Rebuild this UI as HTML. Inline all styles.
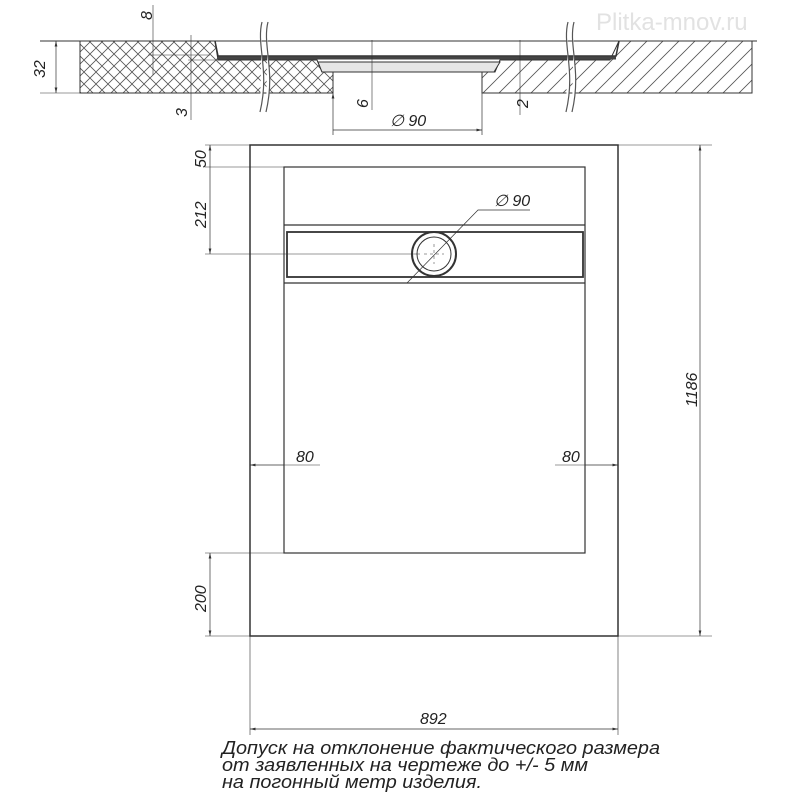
<!DOCTYPE html>
<html><head><meta charset="utf-8"><style>
body{margin:0;background:#fff}
svg text{font-family:"Liberation Sans",sans-serif;font-style:italic;fill:#222}
</style></head><body>
<svg width="800" height="800" viewBox="0 0 800 800" xmlns="http://www.w3.org/2000/svg">
<defs>
<pattern id="xh" width="12" height="12" patternUnits="userSpaceOnUse">
<path d="M0 0L12 12M12 0L0 12" stroke="#555" stroke-width="0.8"/></pattern>
<pattern id="dh" width="16" height="16" patternUnits="userSpaceOnUse">
<path d="M0 16L16 0M-2 2L2 -2M14 18L18 14" stroke="#555" stroke-width="0.8"/></pattern>
<marker id="a" markerWidth="8" markerHeight="6" refX="8" refY="3" orient="auto-start-reverse"><path d="M0 1L8 3L0 5z" fill="#333"/></marker>
</defs>
<g stroke="#333" fill="none" stroke-width="1">
<!-- top section -->
<path d="M80 41H752V93H482V72H333V93H80Z" fill="#fff"/>
<path d="M80 41H215L218 60H317L322 72H333V93H80Z" fill="url(#xh)"/>
<path d="M482 72H495L500 60H610L619 41H752V93H482Z" fill="url(#dh)"/>
<path d="M215 41L218 56H616L619 41" stroke-width="1.5"/>
<path d="M218 58H616" stroke-width="3" stroke="#444"/>
<path d="M318 62H500L494 72H322Z" fill="#e6e6e6"/>
<path d="M40 41H757" stroke-width="1"/>
<path d="M262 22C256 45 270 70 260 112M268 22C262 45 276 70 266 112" stroke="#555" stroke-width="1.2" fill="#fff"/>
<path d="M568 22C562 45 576 70 566 112M574 22C568 45 582 70 572 112" stroke="#555" stroke-width="1.2" fill="#fff"/>
<path d="M56 41V93" marker-start="url(#a)" marker-end="url(#a)" stroke-width="0.7"/>
<path d="M40 93H80" stroke-width="0.6"/>
<path d="M153 5V75M148 55H210" stroke-width="0.6"/>
<path d="M191 35V120M188 60H218" stroke-width="0.6"/>
<path d="M372 40V110M520 40V115" stroke-width="0.6"/>
<path d="M333 93V135M482 93V135M333 130H482" stroke-width="0.7" marker-start="url(#a)" marker-end="url(#a)"/>
<!-- plan -->
<rect x="250" y="145" width="368" height="491" stroke-width="1.5"/>
<rect x="284" y="167" width="301" height="386" stroke-width="1.2"/>
<path d="M284 225H585M284 283H585" stroke-width="1.2"/>
<rect x="287" y="232" width="296" height="45" stroke-width="1.8"/>
<circle cx="434" cy="254" r="22" fill="#fff" stroke-width="2"/>
<circle cx="434" cy="254" r="17" stroke-width="1"/>
<path d="M424 254H444M434 244V264" stroke="#999" stroke-dasharray="3 3"/>
<path d="M407 283L478 210H530" stroke-width="0.7"/>
<path d="M205 145H250M205 167H284M205 254H420" stroke-width="0.6"/>
<path d="M210 145V167M210 167V254" stroke-width="0.7" marker-start="url(#a)" marker-end="url(#a)"/>
<path d="M205 553H284M205 636H250" stroke-width="0.6"/>
<path d="M210 553V636" stroke-width="0.7" marker-start="url(#a)" marker-end="url(#a)"/>
<path d="M618 145H712M618 636H712" stroke-width="0.6"/>
<path d="M700 145V636" stroke-width="0.7" marker-start="url(#a)" marker-end="url(#a)"/>
<path d="M250 465H284M585 465H618" stroke-width="0.7" marker-start="url(#a)" marker-end="url(#a)"/>
<path d="M284 465H320M555 465H585" stroke-width="0.6"/>
<path d="M250 636V735M618 636V735" stroke-width="0.6"/>
<path d="M250 729H618" stroke-width="0.7" marker-start="url(#a)" marker-end="url(#a)"/>
</g>
<g font-size="16">
<text transform="translate(45 78) rotate(-90)">32</text>
<text transform="translate(152 20) rotate(-90)">8</text>
<text transform="translate(187 117) rotate(-90)">3</text>
<text transform="translate(368 108) rotate(-90)">6</text>
<text transform="translate(528 108) rotate(-90)">2</text>
<text x="390" y="126">∅ 90</text>
<text x="494" y="206">∅ 90</text>
<text transform="translate(206 168) rotate(-90)">50</text>
<text transform="translate(206 228) rotate(-90)">212</text>
<text transform="translate(206 612) rotate(-90)">200</text>
<text transform="translate(697 407) rotate(-90)">1186</text>
<text x="296" y="462">80</text>
<text x="562" y="462">80</text>
<text x="420" y="724">892</text>
</g>
<g font-size="18">
<text x="222" y="754" textLength="438" lengthAdjust="spacingAndGlyphs">Допуск на отклонение фактического размера</text>
<text x="222" y="771" textLength="366" lengthAdjust="spacingAndGlyphs">от заявленных на чертеже до +/- 5 мм</text>
<text x="222" y="788" textLength="260" lengthAdjust="spacingAndGlyphs">на погонный метр изделия.</text>
</g>
<text x="596" y="30" font-size="24" style="fill:#e2e2e2;font-style:normal">Plitka-mnov.ru</text>
</svg>
</body></html>
